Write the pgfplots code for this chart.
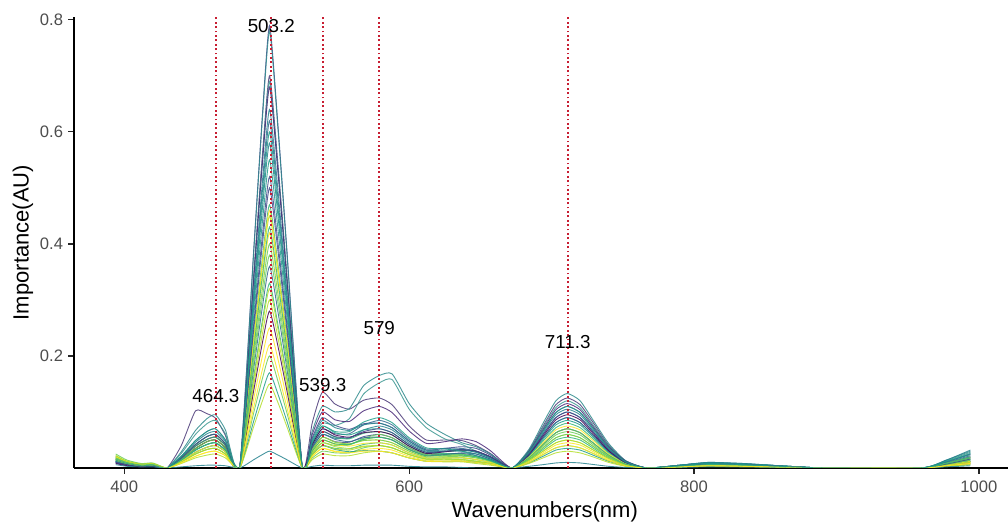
\documentclass[border=0pt]{standalone}
\usepackage{fontspec}
\setmainfont{Liberation Sans}
\usepackage{pgfplots}
\pgfplotsset{compat=1.18}
\usepackage{pgfplotstable}

\definecolor{tickgray}{HTML}{4D4D4D}
\definecolor{reddot}{HTML}{C81E32}
\definecolor{c1}{HTML}{4B3A78}
\definecolor{c2}{HTML}{3E4A89}
\definecolor{c3}{HTML}{2E8A8C}
\definecolor{c4}{HTML}{3A9690}
\definecolor{c5}{HTML}{482878}
\definecolor{c6}{HTML}{31688E}
\definecolor{c7}{HTML}{26828E}
\definecolor{c8}{HTML}{1F9E89}
\definecolor{c9}{HTML}{3E4A89}
\definecolor{c10}{HTML}{35B779}
\definecolor{c11}{HTML}{B4DE2C}
\definecolor{c12}{HTML}{FDE725}
\definecolor{c13}{HTML}{6DCD59}
\definecolor{c14}{HTML}{31688E}
\definecolor{c15}{HTML}{35B779}
\definecolor{c16}{HTML}{B4DE2C}
\definecolor{c17}{HTML}{440154}
\definecolor{c18}{HTML}{FDE725}
\definecolor{c19}{HTML}{6DCD59}
\definecolor{c20}{HTML}{1F9E89}
\definecolor{c21}{HTML}{B4DE2C}
\definecolor{c22}{HTML}{26828E}
\definecolor{d1}{HTML}{FDE725}
\definecolor{d2}{HTML}{6DCD59}
\definecolor{d3}{HTML}{26828E}
\definecolor{d4}{HTML}{B4DE2C}
\definecolor{d5}{HTML}{3E4A89}
\definecolor{d6}{HTML}{35B779}
\definecolor{d7}{HTML}{FDE725}
\definecolor{d8}{HTML}{1F9E89}

\pgfplotstableread{
x y1 y2 y3 y4 y5 y6 y7 y8 y9 y10 y11 y12 y13 y14 y15 y16 y17 y18 y19 y20 y21 y22
394 0.012 0.015 0.020 0.018 0.010 0.012 0.016 0.014 0.009 0.020 0.022 0.018 0.025 0.010 0.015 0.020 0.008 0.016 0.018 0.012 0.014 0.006
402 0.007 0.008 0.011 0.010 0.006 0.007 0.009 0.008 0.005 0.011 0.012 0.010 0.014 0.006 0.008 0.011 0.004 0.009 0.010 0.007 0.008 0.003
412 0.004 0.005 0.006 0.005 0.003 0.004 0.005 0.004 0.003 0.006 0.007 0.005 0.008 0.003 0.005 0.006 0.002 0.005 0.005 0.004 0.004 0.002
420 0.004 0.005 0.007 0.006 0.004 0.004 0.006 0.005 0.003 0.007 0.008 0.006 0.009 0.004 0.005 0.007 0.003 0.006 0.006 0.004 0.005 0.002
430 0 0 0 0 0 0 0 0 0 0 0 0 0 0 0 0 0 0 0 0 0 0
440 0.040 0.018 0.029 0.026 0.017 0.021 0.020 0.015 0.014 0.018 0.017 0.015 0.014 0.012 0.012 0.011 0.015 0.009 0.011 0.014 0.008 0.002
450 0.102 0.042 0.067 0.060 0.039 0.049 0.046 0.035 0.032 0.042 0.039 0.035 0.032 0.028 0.028 0.025 0.035 0.021 0.025 0.032 0.018 0.004
458 0.097 0.056 0.088 0.079 0.051 0.065 0.061 0.047 0.042 0.056 0.051 0.047 0.042 0.037 0.037 0.033 0.047 0.028 0.033 0.042 0.023 0.005
464 0.089 0.060 0.095 0.085 0.055 0.070 0.065 0.050 0.045 0.060 0.055 0.050 0.045 0.040 0.040 0.035 0.050 0.030 0.035 0.045 0.025 0.005
471 0.058 0.043 0.068 0.061 0.040 0.050 0.047 0.036 0.032 0.043 0.040 0.036 0.032 0.029 0.029 0.025 0.036 0.022 0.025 0.032 0.018 0.004
481 0 0 0 0 0 0 0 0 0 0 0 0 0 0 0 0 0 0 0 0 0 0
491 0.350 0.395 0.390 0.345 0.340 0.310 0.290 0.275 0.250 0.235 0.225 0.210 0.200 0.180 0.165 0.150 0.140 0.125 0.100 0.085 0.075 0.015
497 0.560 0.632 0.624 0.552 0.544 0.496 0.464 0.440 0.400 0.376 0.360 0.336 0.320 0.288 0.264 0.240 0.224 0.200 0.160 0.136 0.120 0.024
502 0.700 0.790 0.780 0.690 0.680 0.620 0.580 0.550 0.500 0.470 0.450 0.420 0.400 0.360 0.330 0.300 0.280 0.250 0.200 0.170 0.150 0.030
508 0.539 0.608 0.601 0.531 0.524 0.477 0.447 0.424 0.385 0.362 0.347 0.323 0.308 0.277 0.254 0.231 0.216 0.193 0.154 0.131 0.116 0.023
514 0.350 0.395 0.390 0.345 0.340 0.310 0.290 0.275 0.250 0.235 0.225 0.210 0.200 0.180 0.165 0.150 0.140 0.125 0.100 0.085 0.075 0.015
525 0 0 0 0 0 0 0 0 0 0 0 0 0 0 0 0 0 0 0 0 0 0
532 0.081 0.054 0.066 0.048 0.060 0.042 0.036 0.045 0.033 0.039 0.030 0.033 0.027 0.036 0.024 0.027 0.042 0.021 0.018 0.024 0.015 0.003
539 0.135 0.090 0.110 0.080 0.100 0.070 0.060 0.075 0.055 0.065 0.050 0.055 0.045 0.060 0.040 0.045 0.070 0.035 0.030 0.040 0.025 0.005
548 0.114 0.076 0.100 0.076 0.086 0.061 0.053 0.063 0.047 0.055 0.043 0.046 0.040 0.051 0.035 0.038 0.059 0.030 0.027 0.033 0.022 0.004
558 0.105 0.069 0.106 0.088 0.083 0.061 0.053 0.059 0.046 0.052 0.042 0.043 0.041 0.047 0.034 0.035 0.055 0.028 0.027 0.029 0.022 0.004
568 0.121 0.079 0.147 0.132 0.102 0.077 0.068 0.068 0.056 0.062 0.051 0.049 0.053 0.054 0.042 0.039 0.063 0.033 0.036 0.031 0.027 0.005
579 0.125 0.080 0.165 0.152 0.110 0.085 0.075 0.070 0.060 0.065 0.055 0.050 0.060 0.055 0.045 0.040 0.065 0.035 0.040 0.030 0.030 0.005
588 0.113 0.072 0.168 0.158 0.099 0.077 0.068 0.063 0.054 0.059 0.050 0.045 0.054 0.050 0.041 0.036 0.059 0.032 0.036 0.027 0.027 0.005
600 0.075 0.048 0.115 0.105 0.066 0.051 0.045 0.042 0.036 0.039 0.033 0.030 0.036 0.033 0.027 0.024 0.039 0.021 0.024 0.018 0.018 0.003
612 0.050 0.032 0.080 0.072 0.044 0.034 0.030 0.028 0.024 0.026 0.022 0.020 0.024 0.022 0.018 0.016 0.026 0.014 0.016 0.012 0.012 0.002
625 0.050 0.035 0.060 0.052 0.047 0.035 0.030 0.029 0.025 0.026 0.022 0.020 0.024 0.024 0.018 0.016 0.029 0.014 0.016 0.012 0.011 0.002
637 0.049 0.038 0.045 0.042 0.052 0.035 0.030 0.032 0.026 0.025 0.022 0.019 0.024 0.027 0.018 0.015 0.032 0.013 0.015 0.012 0.011 0.001
647 0.040 0.035 0.038 0.030 0.047 0.030 0.025 0.028 0.022 0.020 0.018 0.015 0.020 0.025 0.015 0.012 0.030 0.010 0.012 0.010 0.008 0.000
657 0.026 0.023 0.025 0.020 0.031 0.020 0.016 0.018 0.014 0.013 0.012 0.010 0.013 0.016 0.010 0.008 0.020 0.007 0.008 0.007 0.005 0.000
672 0 0 0 0 0 0 0 0 0 0 0 0 0 0 0 0 0 0 0 0 0 0
684 0.031 0.028 0.033 0.030 0.029 0.025 0.023 0.021 0.018 0.020 0.015 0.019 0.016 0.023 0.014 0.013 0.024 0.011 0.010 0.009 0.008 0.003
694 0.075 0.066 0.080 0.072 0.069 0.060 0.054 0.051 0.042 0.048 0.036 0.045 0.039 0.054 0.033 0.030 0.057 0.027 0.024 0.021 0.018 0.006
703 0.113 0.099 0.120 0.108 0.104 0.090 0.081 0.077 0.063 0.072 0.054 0.068 0.059 0.081 0.050 0.045 0.086 0.041 0.036 0.032 0.027 0.009
711 0.125 0.110 0.133 0.120 0.115 0.100 0.090 0.085 0.070 0.080 0.060 0.075 0.065 0.090 0.055 0.050 0.095 0.045 0.040 0.035 0.030 0.010
720 0.113 0.099 0.120 0.108 0.104 0.090 0.081 0.077 0.063 0.072 0.054 0.068 0.059 0.081 0.050 0.045 0.086 0.041 0.036 0.032 0.027 0.009
730 0.078 0.068 0.082 0.074 0.071 0.062 0.056 0.053 0.043 0.050 0.037 0.047 0.040 0.056 0.034 0.031 0.059 0.028 0.025 0.022 0.019 0.006
740 0.041 0.036 0.044 0.040 0.038 0.033 0.030 0.028 0.023 0.026 0.020 0.025 0.021 0.030 0.018 0.017 0.031 0.015 0.013 0.012 0.010 0.003
752 0.013 0.011 0.013 0.012 0.012 0.010 0.009 0.009 0.007 0.008 0.006 0.008 0.007 0.009 0.006 0.005 0.010 0.005 0.004 0.004 0.003 0.001
767 0 0 0 0 0 0 0 0 0 0 0 0 0 0 0 0 0 0 0 0 0 0
790 0.004 0.005 0.005 0.005 0.004 0.004 0.005 0.005 0.003 0.004 0.003 0.003 0.004 0.004 0.003 0.003 0.003 0.002 0.002 0.003 0.002 0.001
810 0.008 0.009 0.010 0.009 0.007 0.008 0.010 0.009 0.006 0.008 0.006 0.005 0.007 0.008 0.006 0.005 0.006 0.004 0.004 0.005 0.003 0.002
835 0.006 0.007 0.008 0.007 0.006 0.006 0.008 0.007 0.005 0.006 0.005 0.004 0.006 0.006 0.005 0.004 0.005 0.003 0.003 0.004 0.002 0.002
860 0.003 0.004 0.004 0.004 0.003 0.003 0.004 0.004 0.002 0.003 0.002 0.002 0.003 0.003 0.002 0.002 0.002 0.002 0.002 0.002 0.001 0.001
892 0 0 0 0 0 0 0 0 0 0 0 0 0 0 0 0 0 0 0 0 0 0
959 0 0 0 0 0 0 0 0 0 0 0 0 0 0 0 0 0 0 0 0 0 0
977 0.009 0.011 0.014 0.013 0.008 0.010 0.014 0.007 0.005 0.009 0.008 0.005 0.007 0.005 0.006 0.005 0.004 0.004 0.003 0.005 0.003 0.002
994 0.020 0.025 0.030 0.028 0.018 0.022 0.032 0.015 0.012 0.020 0.018 0.010 0.016 0.012 0.014 0.010 0.008 0.008 0.006 0.012 0.006 0.004
}\data

\pgfplotstableread{
x z1 z2 z3 z4 z5 z6 z7 z8
394 0.020 0.018 0.012 0.022 0.010 0.016 0.014 0.014
402 0.011 0.010 0.007 0.012 0.006 0.009 0.008 0.008
412 0.006 0.005 0.004 0.007 0.003 0.005 0.004 0.004
420 0.007 0.006 0.004 0.008 0.004 0.006 0.005 0.005
430 0 0 0 0 0 0 0 0
440 0.012 0.015 0.017 0.011 0.018 0.014 0.009 0.021
450 0.028 0.035 0.039 0.025 0.042 0.032 0.021 0.049
458 0.037 0.047 0.051 0.033 0.056 0.042 0.028 0.065
464 0.040 0.050 0.055 0.035 0.060 0.045 0.030 0.070
471 0.029 0.036 0.040 0.025 0.043 0.032 0.022 0.050
481 0 0 0 0 0 0 0 0
491 0.230 0.190 0.320 0.160 0.260 0.215 0.110 0.300
497 0.368 0.304 0.512 0.256 0.416 0.344 0.176 0.480
502 0.460 0.380 0.640 0.320 0.520 0.430 0.220 0.600
508 0.354 0.293 0.493 0.246 0.400 0.331 0.169 0.462
514 0.230 0.190 0.320 0.160 0.260 0.215 0.110 0.300
525 0 0 0 0 0 0 0 0
532 0.030 0.033 0.051 0.024 0.039 0.030 0.021 0.045
539 0.050 0.055 0.085 0.040 0.065 0.050 0.035 0.075
548 0.042 0.046 0.072 0.034 0.056 0.043 0.029 0.065
558 0.039 0.043 0.067 0.032 0.054 0.042 0.027 0.065
568 0.044 0.049 0.077 0.038 0.065 0.051 0.030 0.082
579 0.045 0.050 0.080 0.040 0.070 0.055 0.030 0.090
588 0.041 0.045 0.072 0.036 0.063 0.050 0.027 0.081
600 0.027 0.030 0.048 0.024 0.042 0.033 0.018 0.054
612 0.018 0.020 0.032 0.016 0.028 0.022 0.012 0.036
625 0.018 0.020 0.032 0.016 0.030 0.023 0.012 0.034
637 0.018 0.021 0.033 0.015 0.033 0.023 0.012 0.030
647 0.015 0.018 0.028 0.012 0.030 0.020 0.010 0.022
657 0.010 0.012 0.018 0.008 0.020 0.013 0.007 0.014
672 0 0 0 0 0 0 0 0
684 0.018 0.015 0.026 0.013 0.025 0.018 0.010 0.028
694 0.042 0.036 0.063 0.030 0.060 0.042 0.024 0.066
703 0.063 0.054 0.095 0.045 0.090 0.063 0.036 0.099
711 0.070 0.060 0.105 0.050 0.100 0.070 0.040 0.110
720 0.063 0.054 0.095 0.045 0.090 0.063 0.036 0.099
730 0.043 0.037 0.065 0.031 0.062 0.043 0.025 0.068
740 0.023 0.020 0.035 0.017 0.033 0.023 0.013 0.036
752 0.007 0.006 0.011 0.005 0.010 0.007 0.004 0.011
767 0 0 0 0 0 0 0 0
790 0.003 0.003 0.005 0.002 0.004 0.003 0.002 0.004
810 0.005 0.006 0.009 0.004 0.007 0.006 0.004 0.008
835 0.004 0.005 0.007 0.003 0.006 0.005 0.003 0.006
860 0.002 0.002 0.004 0.002 0.003 0.002 0.002 0.003
892 0 0 0 0 0 0 0 0
959 0 0 0 0 0 0 0 0
977 0.005 0.006 0.011 0.005 0.007 0.008 0.004 0.012
994 0.012 0.014 0.024 0.010 0.016 0.018 0.008 0.026
}\dataB

\begin{document}
\begin{tikzpicture}
\begin{axis}[
  scale only axis, width=467pt, height=225.5pt,
  at={(0,0)}, anchor=south west,
  xmin=364.7, xmax=1020.4, ymin=0, ymax=0.805,
  axis lines=left, axis line style={-, line width=0.75pt, black},
  xtick={400,600,800,1000}, xticklabels={400,600,800,1000},
  ytick={0.2,0.4,0.6,0.8}, yticklabels={0.2,0.4,0.6,0.8},
  tick align=outside, major tick length=2.8pt,
  tick style={line width=0.6pt, color=black!85},
  ticklabel style={font=\fontsize{8.3}{10}\selectfont, text=tickgray},
  xticklabel style={anchor=north, inner sep=0pt, yshift=-3.5pt},
  yticklabel style={anchor=east, inner sep=0pt, xshift=-2.5pt},
  xlabel={Wavenumbers(nm)}, ylabel={Importance(AU)},
  label style={font=\fontsize{11}{13}\selectfont},
  xlabel style={at={(axis description cs:0.504,-0.0976)}, anchor=center},
  ylabel style={at={(axis description cs:-0.0546,0.5)}, anchor=center},
  every axis plot/.append style={line width=0.45pt, opacity=0.85},
]
\pgfplotsinvokeforeach{1,...,22}{
  \addplot[color=c#1, mark=none, smooth, tension=0.35] table[x=x, y=y#1] {\data};
}
\pgfplotsinvokeforeach{1,...,8}{
  \addplot[color=d#1, mark=none, smooth, tension=0.35] table[x=x, y=z#1] {\dataB};
}
\addplot[color=reddot, line width=0.9pt, opacity=1, dash pattern=on 0.9pt off 1.3pt] coordinates {(464.3,0) (464.3,0.805)};
\addplot[color=reddot, line width=0.9pt, opacity=1, dash pattern=on 0.9pt off 1.3pt] coordinates {(503.2,0) (503.2,0.805)};
\addplot[color=reddot, line width=0.9pt, opacity=1, dash pattern=on 0.9pt off 1.3pt] coordinates {(539.3,0) (539.3,0.805)};
\addplot[color=reddot, line width=0.9pt, opacity=1, dash pattern=on 0.9pt off 1.3pt] coordinates {(579,0) (579,0.805)};
\addplot[color=reddot, line width=0.9pt, opacity=1, dash pattern=on 0.9pt off 1.3pt] coordinates {(711.3,0) (711.3,0.805)};
\node[font=\fontsize{9.4}{11}\selectfont] at (axis cs:464.3,0.1286) {464.3};
\node[font=\fontsize{9.4}{11}\selectfont] at (axis cs:503.2,0.788) {503.2};
\node[font=\fontsize{9.4}{11}\selectfont] at (axis cs:539.3,0.148) {539.3};
\node[font=\fontsize{9.4}{11}\selectfont] at (axis cs:579,0.2494) {579};
\node[font=\fontsize{9.4}{11}\selectfont] at (axis cs:711.3,0.2256) {711.3};
\end{axis}
\pgfresetboundingbox
\useasboundingbox (-37pt,-28.5pt) rectangle (467pt,234pt);
\end{tikzpicture}
\end{document}
